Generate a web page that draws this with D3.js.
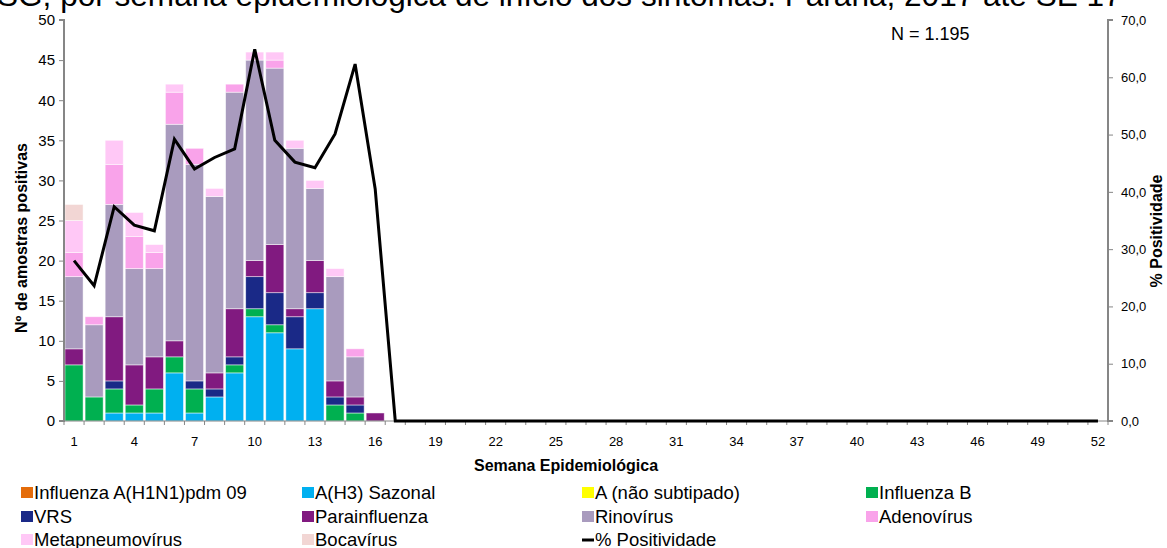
<!DOCTYPE html>
<html>
<head>
<meta charset="utf-8">
<script src="https://cdn.jsdelivr.net/npm/d3@7"></script>
<style>
  html, body { margin: 0; padding: 0; background: #fff; }
  svg { display: block; font-family: "Liberation Sans", Arial, sans-serif; }
</style>
</head>
<body>
<svg id="chart" width="1167" height="548"></svg>
<script>
// ---------------- DATA ----------------
const weeks = [1,2,3,4,5,6,7,8,9,10,11,12,13,14,15,16,17,18,19,20,21,22,23,24,25,26,
  27,28,29,30,31,32,33,34,35,36,37,38,39,40,41,42,43,44,45,46,47,48,49,50,51,52];
const xTickLabels = [1,4,7,10,13,16,19,22,25,28,31,34,37,40,43,46,49,52];
const yLeftTicks = [0,5,10,15,20,25,30,35,40,45,50];
const yRightTicks = [0,10,20,30,40,50,60,70];

const h1n1     = [0,0,0,0,0,0,0,0,0,0,0,0,0,0,0,0, 0,0,0,0,0,0,0,0,0,0,0,0,0,0,0,0,0,0,0,0,0,0,0,0,0,0,0,0,0,0,0,0,0,0,0,0];
const h3       = [0,0,1,1,1,6,1,3,6,13,11,9,14,0,0,0, 0,0,0,0,0,0,0,0,0,0,0,0,0,0,0,0,0,0,0,0,0,0,0,0,0,0,0,0,0,0,0,0,0,0,0,0];
const aNaoSub  = [0,0,0,0,0,0,0,0,0,0,0,0,0,0,0,0, 0,0,0,0,0,0,0,0,0,0,0,0,0,0,0,0,0,0,0,0,0,0,0,0,0,0,0,0,0,0,0,0,0,0,0,0];
const fluB     = [7,3,3,1,3,2,3,0,1,1,1,0,0,2,1,0, 0,0,0,0,0,0,0,0,0,0,0,0,0,0,0,0,0,0,0,0,0,0,0,0,0,0,0,0,0,0,0,0,0,0,0,0];
const vrs      = [0,0,1,0,0,0,1,1,1,4,4,4,2,1,1,0, 0,0,0,0,0,0,0,0,0,0,0,0,0,0,0,0,0,0,0,0,0,0,0,0,0,0,0,0,0,0,0,0,0,0,0,0];
const parainf  = [2,0,8,5,4,2,0,2,6,2,6,1,4,2,1,1, 0,0,0,0,0,0,0,0,0,0,0,0,0,0,0,0,0,0,0,0,0,0,0,0,0,0,0,0,0,0,0,0,0,0,0,0];
const rino     = [9,9,14,12,11,27,27,22,27,25,22,20,9,13,5,0, 0,0,0,0,0,0,0,0,0,0,0,0,0,0,0,0,0,0,0,0,0,0,0,0,0,0,0,0,0,0,0,0,0,0,0,0];
const adeno    = [3,1,5,4,2,4,2,0,1,0,1,0,0,0,1,0, 0,0,0,0,0,0,0,0,0,0,0,0,0,0,0,0,0,0,0,0,0,0,0,0,0,0,0,0,0,0,0,0,0,0,0,0];
const metap    = [4,0,3,3,1,1,0,1,0,1,1,1,1,1,0,0, 0,0,0,0,0,0,0,0,0,0,0,0,0,0,0,0,0,0,0,0,0,0,0,0,0,0,0,0,0,0,0,0,0,0,0,0];
const boca     = [2,0,0,0,0,0,0,0,0,0,0,0,0,0,0,0, 0,0,0,0,0,0,0,0,0,0,0,0,0,0,0,0,0,0,0,0,0,0,0,0,0,0,0,0,0,0,0,0,0,0,0,0];
const positividade = [28.0,23.6,37.4,34.2,33.2,49.2,44.0,46.0,47.5,64.9,49.0,45.2,44.2,50.1,62.3,40.5,
  0,0,0,0,0,0,0,0,0,0,0,0,0,0,0,0,0,0,0,0,0,0,0,0,0,0,0,0,0,0,0,0,0,0,0,0];

const seriesNames = ["Influenza A(H1N1)pdm 09","A(H3) Sazonal","A (não subtipado)","Influenza B",
  "VRS","Parainfluenza","Rinovírus","Adenovírus","Metapneumovírus","Bocavírus"];
const seriesData = [h1n1,h3,aNaoSub,fluB,vrs,parainf,rino,adeno,metap,boca];
const seriesColors = ["#E46C0A","#00B0F0","#FFFF00","#00B050","#1A2987","#811A80","#A99BBE","#F9A3EA","#FFC8F6","#F2D6D4"];
const lineName = "% Positividade";
const titleText = "SG, por semana epidemiológica de início dos sintomas. Paraná, 2017 até SE 17";
const nText = "N = 1.195";

// ---------------- LAYOUT ----------------
const svg = d3.select("#chart");
const plot = {left: 64, right: 1108, top: 20, bottom: 421};
const axisColor = "#868686";

const x = d3.scaleBand().domain(weeks).range([plot.left, plot.right]).paddingInner(0.1).paddingOuter(0.05);
const xb = d3.scaleBand().domain(weeks).range([plot.left, plot.right]);
const yL = d3.scaleLinear().domain([0,50]).range([plot.bottom, plot.top]);
const yR = d3.scaleLinear().domain([0,70]).range([plot.bottom, plot.top]);

// Title (clipped at top like reference)
const title = svg.append("text").attr("x", -3).attr("y", 6)
  .attr("font-size", 24).attr("fill", "#000").text(titleText);
const tl = title.node().getComputedTextLength();
title.attr("font-size", 24 * 1125 / tl);

// Stacked bars
const table = weeks.map((w,i) => {
  const o = {week: w};
  seriesNames.forEach((n,k) => o[n] = seriesData[k][i]);
  return o;
});
const stack = d3.stack().keys(seriesNames)(table);
const g = svg.append("g");
stack.forEach((layer,k) => {
  g.selectAll(null).data(layer.filter(d => d[1] - d[0] > 0)).enter().append("rect")
    .attr("x", d => x(d.data.week))
    .attr("width", x.bandwidth())
    .attr("y", d => yL(d[1]))
    .attr("height", d => yL(d[0]) - yL(d[1]))
    .attr("fill", seriesColors[k])
    .attr("stroke", "#ffffff").attr("stroke-opacity", 0.6).attr("stroke-width", 0.8);
});

// Axes
// left
const leftAxis = d3.axisLeft(yL).tickValues(yLeftTicks).tickSize(5).tickPadding(4).tickFormat(d3.format("d"));
const gl = svg.append("g").attr("transform", `translate(${plot.left},0)`).call(leftAxis);
gl.select(".domain").attr("stroke", axisColor).attr("stroke-width", 2).attr("d", `M-5,${plot.top}H0V${plot.bottom}H-5`);
gl.selectAll(".tick line").attr("stroke", axisColor);
gl.selectAll(".tick text").attr("font-size", 15).attr("fill", "#000").attr("font-family", "Liberation Sans, Arial, sans-serif");

// right
const fmtR = d => d3.format(".1f")(d).replace(".", ",");
const rightAxis = d3.axisRight(yR).tickValues(yRightTicks).tickSize(5).tickPadding(8).tickFormat(fmtR);
const gr = svg.append("g").attr("transform", `translate(${plot.right},0)`).call(rightAxis);
gr.select(".domain").attr("stroke", axisColor).attr("stroke-width", 2).attr("d", `M5,${plot.top}H0V${plot.bottom}H5`);
gr.selectAll(".tick line").attr("stroke", axisColor);
gr.selectAll(".tick text").attr("font-size", 13).attr("fill", "#000").attr("font-family", "Liberation Sans, Arial, sans-serif");

// bottom
const gx = svg.append("g").attr("transform", `translate(0,${plot.bottom})`);
gx.append("line").attr("x1", plot.left).attr("x2", plot.right).attr("stroke", axisColor).attr("stroke-width", 1);
gx.selectAll(".mt").data(weeks.concat(["end"])).enter().append("line")
  .attr("x1", d => d === "end" ? plot.right : xb(d))
  .attr("x2", d => d === "end" ? plot.right : xb(d))
  .attr("y1", 0).attr("y2", 4).attr("stroke", axisColor).attr("stroke-width", 1);
gx.selectAll(".xl").data(xTickLabels).enter().append("text")
  .attr("x", d => xb(d) + xb.bandwidth()/2).attr("y", 25)
  .attr("text-anchor", "middle").attr("font-size", 13).text(d => d);

// Line
const line = d3.line().x((d,i) => xb(weeks[i]) + xb.bandwidth()/2).y(d => yR(d));
svg.append("path").datum(positividade).attr("d", line)
  .attr("fill", "none").attr("stroke", "#000").attr("stroke-width", 3).attr("stroke-linejoin", "miter");

// Axis titles
svg.append("text").attr("transform", `translate(27,238) rotate(-90)`)
  .attr("text-anchor", "middle").attr("font-weight", "bold").attr("font-size", 16).text("Nº de amostras positivas");
svg.append("text").attr("transform", `translate(1162,231) rotate(-90)`)
  .attr("text-anchor", "middle").attr("font-weight", "bold").attr("font-size", 16).text(lineName);
svg.append("text").attr("x", 566).attr("y", 471).attr("text-anchor", "middle")
  .attr("font-weight", "bold").attr("font-size", 16).text("Semana Epidemiológica");

// N label
svg.append("text").attr("x", 891).attr("y", 40).attr("font-size", 18).text(nText);

// Legend
const legendItems = seriesNames.map((n,k) => ({name: n, color: seriesColors[k], type: "rect"}))
  .concat([{name: lineName, color: "#000", type: "line"}]);
const colX = [21, 302, 582, 866];
const rowY = [493, 517, 540];
const lg = svg.append("g");
legendItems.forEach((it, i) => {
  const cx = colX[i % 4], cy = rowY[Math.floor(i / 4)];
  if (it.type === "rect") {
    lg.append("rect").attr("x", cx).attr("y", cy - 6).attr("width", 12).attr("height", 11).attr("fill", it.color);
  } else {
    lg.append("line").attr("x1", cx).attr("x2", cx + 12).attr("y1", cy).attr("y2", cy)
      .attr("stroke", it.color).attr("stroke-width", 3);
  }
  lg.append("text").attr("x", cx + 13).attr("y", cy + 6).attr("font-size", 18.5).text(it.name);
});
</script>
</body>
</html>
